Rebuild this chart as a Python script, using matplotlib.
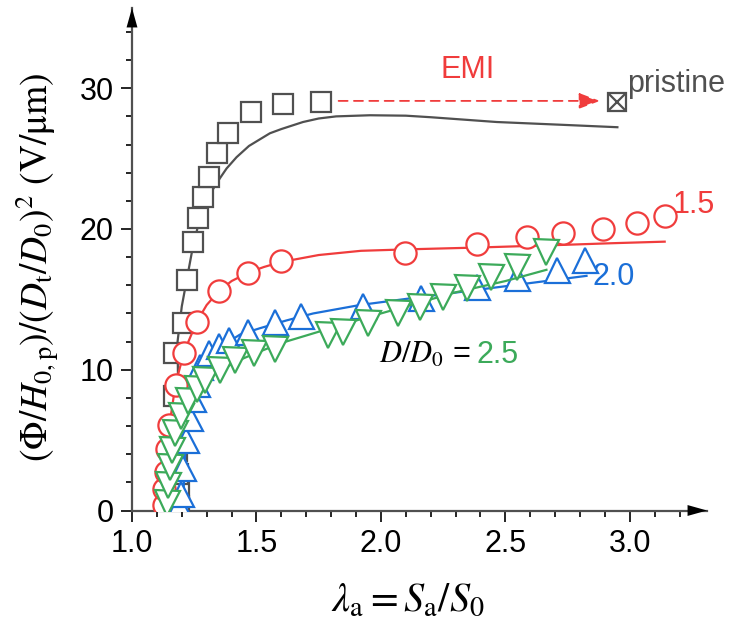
import numpy as np
import matplotlib.pyplot as plt

#==========Data==========
pristine_x = [1.19, 1.19, 1.185, 1.18, 1.175, 1.17, 1.169, 1.206, 1.222, 1.245, 1.265,
              1.284, 1.309, 1.340, 1.384, 1.478, 1.608, 1.759]
pristine_y = [0.3, 1.3, 2.6, 4.2, 5.9, 8.1, 11.2, 13.35, 16.4, 19.1, 20.8,
              22.3, 23.7, 25.4, 26.8, 28.3, 28.9, 29.0]
pristine_fit_x = [1.20, 1.195, 1.185, 1.183, 1.20, 1.24, 1.27, 1.31, 1.353, 1.38, 1.42,
                  1.47, 1.554, 1.60, 1.687, 1.75, 1.82, 1.956, 2.10, 2.20, 2.465, 2.73, 2.95]
pristine_fit_y = [0, 5, 9, 12, 14.5, 18.3, 20.6, 22.4, 23.6, 24.3, 25.1,
                  25.9, 26.8, 27.1, 27.6, 27.85, 28.0, 28.08, 28.05, 27.94, 27.6, 27.4, 27.23]
emi_x = [2.95]
emi_y = [29.0]

d15_x = [1.13, 1.13, 1.135, 1.14, 1.15, 1.176, 1.209, 1.262, 1.349, 1.467, 1.598,
         2.096, 2.384, 2.585, 2.732, 2.893, 3.027, 3.141]
d15_y = [0.4, 1.5, 2.7, 4.4, 6.1, 8.9, 11.2, 13.4, 15.6, 16.9, 17.7,
         18.3, 18.9, 19.4, 19.7, 20.0, 20.4, 20.9]
d15_fit_x = [1.13, 1.135, 1.15, 1.175, 1.21, 1.26, 1.30, 1.35, 1.40, 1.467, 1.53, 1.598,
             1.75, 1.92, 2.10, 2.384, 2.73, 2.93, 3.14]
d15_fit_y = [0, 3, 6, 9, 11.3, 13.4, 14.6, 15.6, 16.3, 16.9, 17.3, 17.65,
             18.15, 18.45, 18.55, 18.68, 18.87, 18.99, 19.1]

d20_x = [1.19, 1.195, 1.205, 1.215, 1.233, 1.246, 1.26, 1.275, 1.31, 1.35, 1.39,
         1.467, 1.574, 1.68, 1.93, 2.163, 2.384, 2.545, 2.706, 2.819]
d20_y = [0.3, 1.2, 3.0, 5.0, 6.6, 7.9, 9.0, 10.2, 11.2, 11.7, 12.1,
         12.7, 13.4, 13.8, 14.5, 15.1, 15.9, 16.5, 17.1, 17.8]
d20_fit_x = [1.205, 1.21, 1.22, 1.233, 1.26, 1.30, 1.38, 1.434, 1.514, 1.62, 1.728, 1.916,
             2.13, 2.53, 2.826]
d20_fit_y = [0, 3, 5.7, 8.8, 9.9, 10.6, 11.9, 12.5, 12.95, 13.5, 14.0, 14.6,
             15.1, 16.0, 16.67]

d25_x = [1.14, 1.146, 1.153, 1.16, 1.173, 1.195, 1.225, 1.26, 1.295, 1.353, 1.415,
         1.49, 1.574, 1.789, 1.849, 1.949, 2.07, 2.157, 2.25, 2.344, 2.444, 2.545, 2.665]
d25_y = [0.5, 1.8, 3.1, 4.3, 5.5, 6.7, 7.8, 8.6, 9.3, 10.0, 10.7,
         11.2, 11.5, 12.47, 12.7, 13.3, 14.0, 14.48, 15.2, 15.8, 16.62, 17.28, 18.4]
d25_fit_x = [1.14, 1.15, 1.17, 1.2, 1.25, 1.3, 1.35, 1.42, 1.5, 1.6, 1.75,
             1.92, 2.1, 2.3, 2.5, 2.665]
d25_fit_y = [0, 3, 5.3, 6.8, 8.2, 9.2, 9.9, 10.6, 11.2, 11.9, 12.7,
             13.6, 14.5, 15.5, 16.3, 17.1]

gray = '#505050'
red = '#F03C3C'
blue = '#1B6FD8'
green = '#3CAA5A'

#==========Figure===========
plt.rcParams['font.family'] = ['Liberation Sans', 'DejaVu Sans']
plt.rcParams['mathtext.fontset'] = 'stix'

fig = plt.figure(figsize=(7.4, 6.3), dpi=100)
ax = fig.add_axes([132 / 740, 119.5 / 630, 575 / 740, 502.5 / 630])
ax.set_xlim(1.0, 3.31)
ax.set_ylim(0, 35.7)

ax.plot(pristine_fit_x, pristine_fit_y, '-', color=gray, lw=1.6, zorder=2)
ax.plot(pristine_x, pristine_y, 's', ms=14, mfc='white', mec=gray, mew=1.6, zorder=3)
ax.plot(emi_x, emi_y, 's', ms=13, mfc='white', mec=gray, mew=1.6, zorder=3)
ax.plot(emi_x, emi_y, 'x', ms=11, mec=gray, mew=1.6, zorder=4)

ax.plot(d15_fit_x, d15_fit_y, '-', color=red, lw=1.6, zorder=4)
ax.plot(d15_x, d15_y, 'o', ms=16, mfc='white', mec=red, mew=1.6, zorder=5)

ax.plot(d20_fit_x, d20_fit_y, '-', color=blue, lw=1.6, zorder=6)
ax.plot(d20_x, d20_y, '^', ms=18, mfc='white', mec=blue, mew=1.6, zorder=7)

ax.plot(d25_fit_x, d25_fit_y, '-', color=green, lw=1.6, zorder=8)
ax.plot(d25_x, d25_y, 'v', ms=18, mfc='white', mec=green, mew=1.6, zorder=9)

#==========EMI arrow & labels==========
ax.annotate('', xy=(2.88, 29.1), xytext=(1.83, 29.1),
            arrowprops=dict(arrowstyle='-|>,head_length=0.8,head_width=0.3', color=red,
                            lw=1.3, ls=(0, (5, 3.5)), mutation_scale=16, shrinkA=0, shrinkB=0))
ax.text(2.35, 31.3, 'EMI', color=red, fontsize=22, ha='center', va='center')
ax.text(2.99, 30.3, 'pristine', color=gray, fontsize=22, ha='left', va='center')
ax.text(3.17, 21.7, '1.5', color=red, fontsize=22, ha='left', va='center')
ax.text(2.85, 16.6, '2.0', color=blue, fontsize=22, ha='left', va='center')
ax.text(2.36, 11.05, '$D/D_0$ =', color='k', fontsize=22, ha='right', va='center')
ax.text(2.385, 11.05, '2.5', color=green, fontsize=22, ha='left', va='center')

#==========Axes styling==========
for side in ['top', 'right']:
    ax.spines[side].set_visible(False)
for side in ['left', 'bottom']:
    ax.spines[side].set_color(gray)
    ax.spines[side].set_linewidth(1.6)

ax.set_xticks([1.0, 1.5, 2.0, 2.5, 3.0])
ax.set_xticks(np.arange(1.1, 3.25, 0.1), minor=True)
ax.set_yticks([0, 10, 20, 30])
ax.set_yticks(np.arange(2, 35, 2), minor=True)
ax.xaxis.set_major_formatter(plt.FormatStrFormatter('%.1f'))
ax.tick_params(which='major', direction='out', length=8, width=1.2, color='k',
               labelsize=22, pad=5)
ax.tick_params(which='minor', direction='out', length=4, width=1.2, color='k')

ax.annotate('', xy=(1.0, 0), xycoords='axes fraction', xytext=(0.96, 0),
            arrowprops=dict(arrowstyle='-|>,head_length=1.0,head_width=0.28', color='k',
                            lw=0, mutation_scale=14, shrinkA=0, shrinkB=0), annotation_clip=False)
ax.annotate('', xy=(0, 1.0), xycoords='axes fraction', xytext=(0, 0.96),
            arrowprops=dict(arrowstyle='-|>,head_length=1.0,head_width=0.28', color='k',
                            lw=0, mutation_scale=14, shrinkA=0, shrinkB=0), annotation_clip=False)

fig.text(407.5 / 740, 1 - 600 / 630, r'$\lambda_{\mathrm{a}} = S_{\mathrm{a}}/S_0$',
         fontsize=29, ha='center', va='center')
fig.text(38 / 740, 1 - 267 / 630,
         r'$(\Phi/H_{\mathrm{0,p}})/(D_{\mathrm{t}}/D_0)^2\ (\mathrm{V/\mu m})$',
         fontsize=27, ha='center', va='center', rotation=90)

fig.savefig('out.png', dpi=100)
print("Complited")
